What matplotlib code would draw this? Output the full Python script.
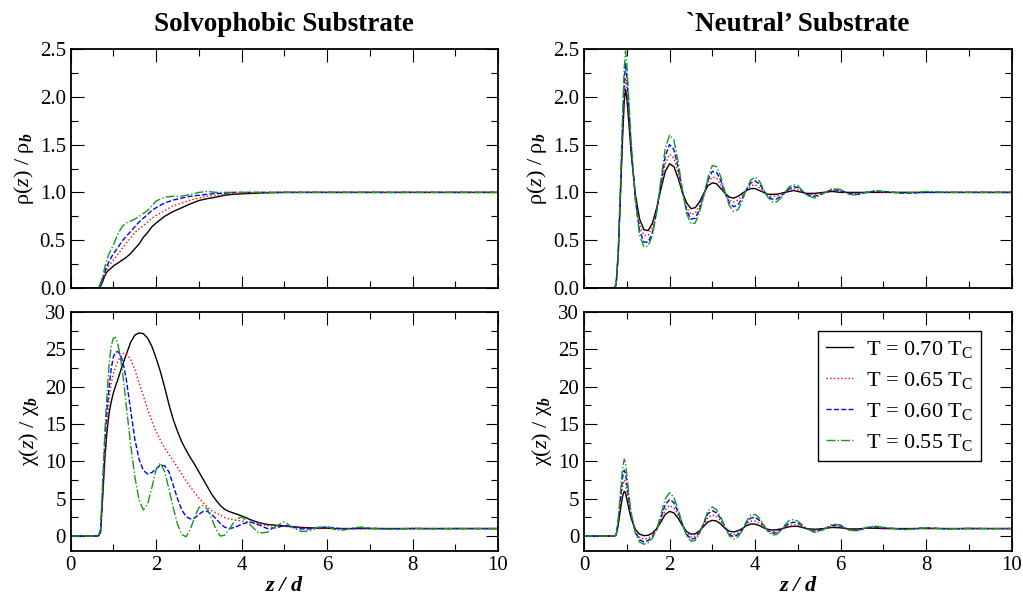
import numpy as np
import matplotlib
matplotlib.use("Agg")
import matplotlib.pyplot as plt
from matplotlib.ticker import MultipleLocator, FormatStrFormatter

plt.rcParams['font.family'] = ['Liberation Serif', 'DejaVu Serif']
plt.rcParams['mathtext.fontset'] = 'custom'
plt.rcParams['mathtext.rm'] = 'Liberation Serif'
plt.rcParams['mathtext.it'] = 'Liberation Serif:italic'
plt.rcParams['mathtext.bf'] = 'Liberation Serif:bold'
plt.rcParams['mathtext.bfit'] = 'Liberation Serif:italic:bold'

labels = ['T = 0.70 T$_\\mathrm{C}$', 'T = 0.65 T$_\\mathrm{C}$',
          'T = 0.60 T$_\\mathrm{C}$', 'T = 0.55 T$_\\mathrm{C}$']
colors = ['black', '#ff0000', '#0000ff', '#129a12']
styles = ['-', ':', '--', '-.']

# ---- solvophobic substrate, density ----
z_sp = [0, 0.65, 0.7, 0.75, 0.8, 0.85, 0.9, 1.0, 1.1, 1.2, 1.3, 1.4, 1.5, 1.6, 1.7, 1.8, 1.9, 2.0,
        2.2, 2.4, 2.6, 2.8, 3.0, 3.2, 3.4, 3.6, 3.8, 4.0, 4.5, 5.0, 6, 7, 8, 9, 10]
rho_sp_70 = [0, 0, 0.02, 0.07, 0.13, 0.17, 0.19, 0.23, 0.26, 0.29, 0.32, 0.36, 0.41, 0.46, 0.53, 0.58, 0.64, 0.68,
             0.75, 0.80, 0.84, 0.88, 0.915, 0.935, 0.95, 0.97, 0.98, 0.985, 0.995, 1.0, 1.0, 1.0, 1.0, 1.0, 1.0]
rho_sp_65 = [0, 0, 0.03, 0.09, 0.15, 0.20, 0.24, 0.29, 0.35, 0.41, 0.47, 0.52, 0.58, 0.62, 0.65, 0.69, 0.73, 0.76,
             0.81, 0.86, 0.89, 0.92, 0.94, 0.96, 0.97, 0.98, 0.99, 0.99, 1.0, 1.0, 1.0, 1.0, 1.0, 1.0, 1.0]
rho_sp_60 = [0, 0, 0.04, 0.10, 0.17, 0.23, 0.28, 0.36, 0.42, 0.49, 0.54, 0.59, 0.64, 0.69, 0.73, 0.77, 0.81, 0.84,
             0.89, 0.92, 0.94, 0.96, 0.97, 0.98, 0.99, 0.99, 1.0, 1.0, 1.0, 1.0, 1.0, 1.0, 1.0, 1.0, 1.0]
rho_sp_55 = [0, 0, 0.05, 0.12, 0.22, 0.30, 0.36, 0.45, 0.56, 0.64, 0.68, 0.70, 0.72, 0.75, 0.78, 0.81, 0.86, 0.91,
             0.95, 0.96, 0.96, 0.98, 1.0, 1.01, 1.0, 1.0, 1.0, 1.0, 1.0, 1.0, 1.0, 1.0, 1.0, 1.0, 1.0]

# ---- solvophobic substrate, susceptibility ----
z_sc = [0, 0.65, 0.7, 0.75, 0.8, 0.85, 0.9, 0.95, 1.0, 1.05, 1.1, 1.15, 1.2, 1.25, 1.3,
        1.4, 1.5, 1.6, 1.7, 1.8, 1.9, 2.0, 2.1, 2.2, 2.3, 2.4, 2.5, 2.6, 2.7, 2.8, 2.9, 3.0,
        3.1, 3.2, 3.3, 3.4, 3.5, 3.6, 3.7, 3.8, 3.9, 4.0,
        4.2, 4.4, 4.6, 4.8, 5.0, 5.2, 5.4, 5.6, 5.8, 6.0, 6.2, 6.4, 6.6, 6.8, 7.0,
        7.5, 8, 8.5, 9, 9.5, 10]
chi_sp_70 = [0, 0, 0.5, 5.5, 10.5, 14.0, 16.5, 18.0, 19.2, 20.1, 20.9, 21.8, 22.7, 23.5, 24.3,
             25.9, 26.9, 27.2, 27.1, 26.5, 25.4, 23.8, 22.0, 19.9, 17.6, 15.6, 14.0, 12.6, 11.5, 10.5, 9.6, 8.6,
             7.6, 6.6, 5.6, 4.8, 4.1, 3.6, 3.3, 3.1, 2.9, 2.7,
             2.2, 1.8, 1.55, 1.45, 1.35, 1.25, 1.15, 1.1, 1.05, 1.05, 1.0, 1.0, 1.0, 1.0, 1.0,
             1.0, 1.0, 1.0, 1.0, 1.0, 1.0]
chi_sp_65 = [0, 0, 0.6, 5.0, 10.0, 14.5, 18.5, 20.5, 21.8, 22.6, 23.3, 23.9, 24.3, 24.5, 24.4,
             23.7, 22.3, 20.5, 18.8, 17.0, 15.4, 14.0, 12.8, 11.8, 10.9, 10.1, 9.2, 8.3, 7.4, 6.6, 5.8, 5.1,
             4.5, 3.9, 3.4, 3.1, 2.8, 2.5, 2.3, 2.2, 2.1, 2.0,
             1.8, 1.6, 1.4, 1.3, 1.3, 1.2, 1.1, 1.05, 1.0, 1.0, 1.0, 1.0, 1.0, 1.0, 1.0,
             1.0, 1.0, 1.0, 1.0, 1.0, 1.0]
chi_sp_60 = [0, 0, 0.8, 6.5, 12.5, 17.0, 20.0, 22.5, 24.0, 24.6, 24.7, 24.4, 23.7, 22.5, 21.0,
             17.0, 13.0, 10.3, 8.8, 8.3, 8.5, 9.0, 9.5, 9.4, 8.6, 6.8, 5.0, 3.5, 2.6, 2.3, 2.4, 2.9,
             3.3, 3.3, 2.9, 2.3, 1.7, 1.2, 1.0, 1.1, 1.3, 1.6,
             1.9, 1.5, 1.0, 1.1, 1.4, 1.2, 0.95, 0.95, 1.1, 1.2, 1.05, 0.95, 1.0, 1.1, 1.05,
             0.95, 1.0, 1.0, 1.0, 1.0, 1.0]
chi_sp_55 = [0, 0, 1.0, 7.5, 14.0, 19.0, 23.0, 25.5, 26.5, 26.6, 25.8, 24.4, 22.5, 20.2, 17.5,
             12.4, 8.0, 4.8, 3.5, 4.3, 6.5, 8.9, 9.8, 8.6, 6.3, 3.8, 1.6, 0.2, -0.1, 0.9, 2.5, 3.8,
             4.1, 3.6, 2.3, 0.9, 0.0, 0.1, 0.8, 1.7, 2.3, 2.6,
             1.5, 0.4, 0.5, 1.3, 1.9, 1.1, 0.6, 0.7, 1.2, 1.3, 0.8, 0.8, 1.1, 1.2, 1.0,
             0.9, 1.05, 0.95, 1.0, 1.0, 1.0]

# ---- neutral substrate (density and susceptibility) ----
z_nt = [0, 0.7, 0.75, 0.8, 0.85, 0.9, 0.94, 0.97, 1.0, 1.05,
        1.1, 1.2, 1.3, 1.4, 1.5, 1.6, 1.7, 1.8, 1.9, 2.0,
        2.1, 2.2, 2.3, 2.4, 2.5, 2.6, 2.7, 2.8, 2.9, 3.0,
        3.1, 3.2, 3.3, 3.4, 3.5, 3.6, 3.7, 3.8, 3.9, 4.0,
        4.1, 4.2, 4.3, 4.4, 4.5, 4.6, 4.7, 4.8, 4.9,
        5.0, 5.2, 5.4, 5.6, 5.8, 6.0, 6.2, 6.4, 6.6, 6.8, 7.0,
        7.5, 8.0, 8.5, 9.0, 9.5, 10.0]
rho_nt_70 = [0, 0, 0.03, 0.35, 0.95, 1.55, 1.95, 2.08, 1.99, 1.72,
             1.42, 0.98, 0.72, 0.61, 0.60, 0.68, 0.84, 1.04, 1.22, 1.30,
             1.27, 1.15, 1.00, 0.89, 0.83, 0.84, 0.90, 0.99, 1.07, 1.10,
             1.09, 1.04, 0.99, 0.95, 0.94, 0.96, 0.99, 1.02, 1.04, 1.04,
             1.02, 1.00, 0.98, 0.98, 0.98, 0.99, 1.00, 1.01, 1.02,
             1.01, 0.99, 0.99, 1.00, 1.01, 1.00, 1.00, 1.00, 1.00, 1.00, 1.00,
             1.0, 1.0, 1.0, 1.0, 1.0, 1.0]
rho_nt_65 = [0, 0, 0.03, 0.35, 0.98, 1.62, 2.05, 2.20, 2.10, 1.80,
             1.45, 0.95, 0.66, 0.55, 0.55, 0.64, 0.83, 1.08, 1.30, 1.40,
             1.36, 1.20, 1.00, 0.84, 0.77, 0.78, 0.86, 0.98, 1.10, 1.16,
             1.15, 1.08, 0.99, 0.92, 0.90, 0.92, 0.97, 1.03, 1.07, 1.08,
             1.05, 1.01, 0.97, 0.96, 0.96, 0.98, 1.00, 1.03, 1.04,
             1.03, 0.98, 0.98, 1.00, 1.02, 1.01, 0.99, 0.99, 1.00, 1.01, 1.00,
             1.0, 1.0, 1.0, 1.0, 1.0, 1.0]
rho_nt_60 = [0, 0, 0.03, 0.37, 1.00, 1.70, 2.15, 2.35, 2.22, 1.88,
             1.50, 0.93, 0.60, 0.48, 0.48, 0.58, 0.80, 1.10, 1.38, 1.50,
             1.45, 1.26, 1.02, 0.81, 0.72, 0.73, 0.82, 0.97, 1.13, 1.22,
             1.21, 1.12, 0.99, 0.89, 0.85, 0.87, 0.94, 1.03, 1.10, 1.12,
             1.09, 1.02, 0.96, 0.93, 0.93, 0.96, 1.00, 1.04, 1.06,
             1.05, 0.98, 0.96, 0.99, 1.03, 1.02, 0.99, 0.98, 1.00, 1.01, 1.01,
             0.99, 1.0, 1.0, 1.0, 1.0, 1.0]
rho_nt_55 = [0, 0, 0.03, 0.38, 1.05, 1.80, 2.30, 2.48, 2.35, 1.95,
             1.55, 0.92, 0.55, 0.43, 0.44, 0.55, 0.80, 1.14, 1.46, 1.60,
             1.55, 1.32, 1.03, 0.78, 0.67, 0.68, 0.79, 0.96, 1.16, 1.28,
             1.27, 1.16, 1.00, 0.86, 0.80, 0.82, 0.91, 1.04, 1.13, 1.16,
             1.12, 1.03, 0.95, 0.90, 0.90, 0.94, 1.00, 1.06, 1.08,
             1.07, 0.97, 0.94, 0.99, 1.04, 1.03, 0.98, 0.97, 1.00, 1.02, 1.01,
             0.99, 1.01, 1.0, 1.0, 1.0, 1.0]

chi_nt_70 = [0, 0, 0.1, 1.5, 3.5, 5.3, 6.0, 5.8, 5.0, 3.6,
             2.4, 0.9, 0.25, 0.05, 0.1, 0.4, 1.0, 1.9, 2.9, 3.3,
             3.1, 2.4, 1.4, 0.6, 0.25, 0.3, 0.7, 1.3, 1.9, 2.1,
             2.0, 1.6, 1.0, 0.65, 0.55, 0.7, 1.0, 1.4, 1.6, 1.6,
             1.4, 1.1, 0.9, 0.8, 0.85, 0.95, 1.1, 1.25, 1.3,
             1.3, 1.0, 0.9, 1.0, 1.15, 1.1, 0.95, 0.95, 1.05, 1.05, 1.0,
             1.0, 1.0, 1.0, 1.0, 1.0, 1.0]
chi_nt_65 = [0, 0, 0.1, 1.7, 4.2, 6.6, 7.5, 7.2, 6.1, 4.2,
             2.6, 0.6, -0.2, -0.4, -0.3, 0.1, 0.9, 2.1, 3.5, 4.1,
             3.8, 2.8, 1.5, 0.4, -0.1, 0.0, 0.6, 1.5, 2.5, 2.8,
             2.6, 2.0, 1.1, 0.4, 0.2, 0.4, 0.9, 1.6, 2.0, 2.0,
             1.7, 1.2, 0.8, 0.6, 0.65, 0.9, 1.2, 1.45, 1.5,
             1.45, 0.95, 0.75, 0.95, 1.3, 1.2, 0.9, 0.85, 1.05, 1.15, 1.05,
             0.95, 1.05, 1.0, 1.0, 1.0, 1.0]
chi_nt_60 = [0, 0, 0.1, 2.0, 5.0, 7.8, 8.8, 8.4, 7.1, 4.8,
             2.9, 0.5, -0.5, -0.8, -0.6, -0.1, 0.9, 2.5, 4.2, 4.9,
             4.5, 3.2, 1.6, 0.2, -0.4, -0.3, 0.5, 1.7, 3.0, 3.4,
             3.1, 2.3, 1.2, 0.2, -0.1, 0.2, 0.8, 1.8, 2.4, 2.5,
             2.1, 1.4, 0.7, 0.4, 0.45, 0.8, 1.3, 1.7, 1.85,
             1.75, 1.0, 0.6, 0.9, 1.45, 1.35, 0.85, 0.75, 1.1, 1.25, 1.1,
             0.9, 1.1, 0.95, 1.0, 1.0, 1.0]
chi_nt_55 = [0, 0, 0.1, 2.3, 5.8, 9.0, 10.3, 9.8, 8.2, 5.5,
             3.2, 0.4, -0.8, -1.1, -0.9, -0.3, 0.9, 2.9, 5.0, 5.8,
             5.2, 3.6, 1.6, 0.0, -0.7, -0.6, 0.3, 1.8, 3.4, 3.9,
             3.5, 2.5, 1.2, 0.0, -0.4, -0.1, 0.7, 2.0, 2.8, 2.9,
             2.4, 1.5, 0.6, 0.15, 0.2, 0.7, 1.5, 2.1, 2.2,
             2.0, 1.0, 0.45, 0.85, 1.6, 1.5, 0.8, 0.65, 1.15, 1.35, 1.15,
             0.85, 1.1, 0.95, 1.05, 0.98, 1.0]

fig = plt.figure(figsize=(10.23, 5.97), dpi=100)
ax_tl = fig.add_axes([0.0691, 0.5176, 0.4177, 0.4003])
ax_tr = fig.add_axes([0.5709, 0.5176, 0.4180, 0.4003])
ax_bl = fig.add_axes([0.0691, 0.0771, 0.4177, 0.4003])
ax_br = fig.add_axes([0.5709, 0.0771, 0.4180, 0.4003])

panels = [
    (ax_tl, z_sp, [rho_sp_70, rho_sp_65, rho_sp_60, rho_sp_55]),
    (ax_tr, z_nt, [rho_nt_70, rho_nt_65, rho_nt_60, rho_nt_55]),
    (ax_bl, z_sc, [chi_sp_70, chi_sp_65, chi_sp_60, chi_sp_55]),
    (ax_br, z_nt, [chi_nt_70, chi_nt_65, chi_nt_60, chi_nt_55]),
]

for ax, zz, series in panels:
    for ys, c, ls, lab in zip(series, colors, styles, labels):
        ax.plot(zz, ys, color=c, linestyle=ls, linewidth=1.0, label=lab)
    ax.set_xlim(0, 10)
    ax.xaxis.set_major_locator(MultipleLocator(2))
    ax.xaxis.set_minor_locator(MultipleLocator(1))
    ax.tick_params(which='both', direction='in', top=True, right=True, width=0.8, labelsize=15)
    ax.tick_params(which='major', length=9)
    ax.tick_params(which='minor', length=5)
    for sp in ax.spines.values():
        sp.set_linewidth(1.3)

for ax in (ax_tl, ax_tr):
    ax.set_ylim(0, 2.5)
    ax.yaxis.set_major_locator(MultipleLocator(0.5))
    ax.yaxis.set_minor_locator(MultipleLocator(0.25))
    ax.yaxis.set_major_formatter(FormatStrFormatter('%.1f'))
    ax.tick_params(labelbottom=False)
    ax.set_ylabel('ρ($\\mathit{z}$) / ρ$_{\\mathbfit{b}}$', fontsize=16, labelpad=3)

for ax in (ax_bl, ax_br):
    ax.set_ylim(-2, 30)
    ax.yaxis.set_major_locator(MultipleLocator(5))
    ax.yaxis.set_minor_locator(MultipleLocator(2.5))
    ax.set_ylabel('χ($\\mathit{z}$) / χ$_{\\mathbfit{b}}$', fontsize=16, labelpad=3)
    ax.set_xlabel('z / d', fontsize=16, fontweight='bold', style='italic', labelpad=1)

ax_tl.set_title('Solvophobic Substrate', fontsize=19.5, fontweight='bold', pad=13)
ax_tr.set_title('`Neutral\u2019 Substrate', fontsize=19.5, fontweight='bold', pad=13)

leg = ax_br.legend(loc='upper right', bbox_to_anchor=(0.928, 0.92), borderaxespad=0,
                   fontsize=16, fancybox=False, framealpha=1, edgecolor='black',
                   handlelength=1.2, labelspacing=0.45, borderpad=0.35, handletextpad=0.6)
leg.get_frame().set_linewidth(1.0)

fig.savefig('out.png', dpi=100)
